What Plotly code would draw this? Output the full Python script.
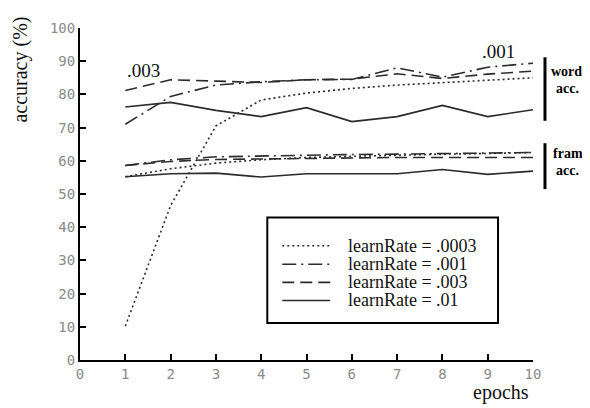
import plotly.graph_objects as go

# ---------------- data ----------------
epochs = [1, 2, 3, 4, 5, 6, 7, 8, 9, 10]

# word accuracy (%)
word_lr0003 = [10.2, 46.5, 70.5, 78.3, 80.4, 81.8, 82.8, 83.5, 84.2, 85.0]
word_lr001 = [71.0, 79.4, 82.8, 83.8, 84.4, 84.5, 88.0, 85.2, 88.2, 89.4]
word_lr003 = [81.2, 84.4, 84.0, 83.6, 84.4, 84.6, 86.2, 84.8, 86.1, 87.0]
word_lr01 = [76.2, 77.6, 75.2, 73.3, 76.0, 71.8, 73.3, 76.7, 73.3, 75.4]

# frame accuracy (%)
frame_lr0003 = [55.2, 57.6, 59.3, 60.3, 61.0, 61.4, 61.7, 62.0, 62.2, 62.5]
frame_lr001 = [58.6, 60.3, 61.2, 61.5, 61.7, 61.9, 62.0, 62.2, 62.4, 62.5]
frame_lr003 = [58.6, 59.8, 60.4, 60.6, 60.8, 60.9, 61.0, 61.0, 61.0, 61.0]
frame_lr01 = [55.2, 56.1, 56.3, 55.1, 56.1, 56.1, 56.1, 57.4, 55.9, 56.9]

legend_labels = ["learnRate = .0003", "learnRate = .001", "learnRate = .003", "learnRate = .01"]
x_ticks = [0, 1, 2, 3, 4, 5, 6, 7, 8, 9, 10]
y_ticks = [0, 10, 20, 30, 40, 50, 60, 70, 80, 90, 100]

# ---------------- styles ----------------
LINE_COLOR = "#2b2b2b"
LW = 1.6
dashes = ["2px,3px", "14px,5px,2px,5px", "12px,6px", "solid"]
SERIF = "Liberation Serif, Times New Roman, serif"

fig = go.Figure()

series = [
    (word_lr0003, frame_lr0003),
    (word_lr001, frame_lr001),
    (word_lr003, frame_lr003),
    (word_lr01, frame_lr01),
]
for (w, f), dash, name in zip(series, dashes, legend_labels):
    for vals in (w, f):
        fig.add_trace(go.Scatter(
            x=epochs, y=vals, mode="lines", name=name, showlegend=False,
            line=dict(color=LINE_COLOR, width=LW, dash=dash),
            hoverinfo="x+y",
        ))

# page body has an 8px default margin; target plot area in window pixels:
# x 79.5..533, y 20..360
OFF = 8
PL, PR, PT, PB = 79.5, 533.0, 20.0, 360.0
W, H = 590 - OFF, 408 - OFF


def px(xp):
    return (xp - PL) / (PR - PL)


def py(yp):
    return (PB - yp) / (PB - PT)


shapes = []
annotations = []

# manual legend box
shapes.append(dict(type="rect", xref="paper", yref="paper",
                   x0=px(267), x1=px(498), y0=py(322), y1=py(214),
                   line=dict(color="black", width=2), fillcolor="white", layer="above"))
row_y = [243, 262, 280.5, 299]
for label, dash, ry in zip(legend_labels, dashes, row_y):
    shapes.append(dict(type="line", xref="paper", yref="paper",
                       x0=px(282), x1=px(330), y0=py(ry), y1=py(ry),
                       line=dict(color=LINE_COLOR, width=LW, dash=dash), layer="above"))
    annotations.append(dict(xref="paper", yref="paper", x=px(346), y=py(ry),
                            xanchor="left", yanchor="middle", showarrow=False,
                            text=label, font=dict(family=SERIF, size=18, color="#111")))

# learning-rate callouts
annotations.append(dict(xref="paper", yref="paper", x=px(143.5), y=py(63.5),
                        xanchor="center", yanchor="middle", showarrow=False,
                        text=".003", font=dict(family=SERIF, size=19, color="#111")))
annotations.append(dict(xref="paper", yref="paper", x=px(498), y=py(44),
                        xanchor="center", yanchor="middle", showarrow=False,
                        text=".001", font=dict(family=SERIF, size=19, color="#111")))

# brackets on the right
shapes.append(dict(type="line", xref="paper", yref="paper",
                   x0=px(545), x1=px(545), y0=py(115), y1=py(50),
                   line=dict(color="black", width=3)))
shapes.append(dict(type="line", xref="paper", yref="paper",
                   x0=px(545), x1=px(545), y0=py(185), y1=py(138),
                   line=dict(color="black", width=3)))
for txt, xx, yy, anchor in [("word", 567, 65, "center"), ("acc.", 568, 82, "center"),
                            ("frame", 551, 149, "left"), ("acc.", 568, 166, "center")]:
    annotations.append(dict(xref="paper", yref="paper", x=px(xx), y=py(yy),
                            xanchor=anchor, yanchor="middle", showarrow=False,
                            text="<b>" + txt + "</b>",
                            font=dict(family=SERIF, size=14, color="black")))

# axis titles
annotations.append(dict(xref="paper", yref="paper", x=px(20), y=py(63),
                        xanchor="center", yanchor="middle", showarrow=False,
                        textangle=-90, text="accuracy (%)",
                        font=dict(family=SERIF, size=20, color="#111")))
annotations.append(dict(xref="paper", yref="paper", x=px(501), y=py(393),
                        xanchor="center", yanchor="middle", showarrow=False,
                        text="epochs", font=dict(family=SERIF, size=20, color="#111")))

tick_font = dict(family="DejaVu Sans Mono, monospace", size=14, color="#8a8a8a")

fig.update_layout(
    width=W, height=H, autosize=False,
    margin=dict(l=PL - OFF, r=(W + OFF) - PR, t=PT - OFF, b=(H + OFF) - PB, pad=0),
    paper_bgcolor="white", plot_bgcolor="white",
    showlegend=False,
    shapes=shapes, annotations=annotations,
    xaxis=dict(range=[0, 10], tickvals=x_ticks, ticktext=[str(v) for v in x_ticks],
               showgrid=False, zeroline=False, showline=True, linecolor="black", linewidth=2,
               ticks="inside", ticklen=6, tickwidth=2, tickcolor="black",
               tickfont=tick_font, fixedrange=True),
    yaxis=dict(range=[0, 100], tickvals=y_ticks, ticktext=[str(v) for v in y_ticks],
               showgrid=False, zeroline=False, showline=True, linecolor="black", linewidth=2,
               ticks="inside", ticklen=6, tickwidth=2, tickcolor="black",
               tickfont=tick_font, fixedrange=True),
)

fig.write_html("out.html")
